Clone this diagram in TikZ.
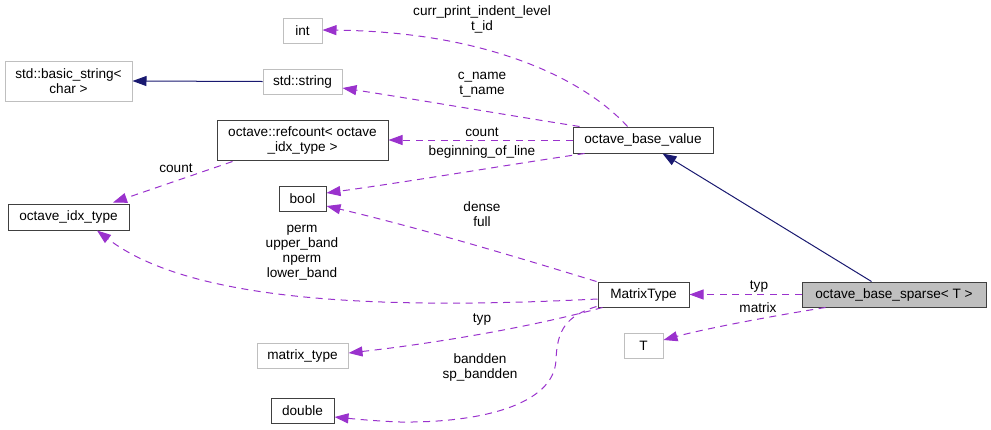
\documentclass[tikz,border=0pt]{standalone}
\usepackage{fontspec}
\setmainfont{Liberation Sans}
\usetikzlibrary{arrows.meta,calc}
\definecolor{edgep}{HTML}{9A32CD}
\definecolor{navy}{HTML}{191970}
\definecolor{boxd}{HTML}{404040}
\definecolor{boxl}{HTML}{BFBFBF}
\tikzset{
  box/.style={draw=boxd, line width=1pt, inner sep=0pt, font=\fontsize{13.6}{15}\selectfont, text=black},
  lbox/.style={box, draw=boxl},
  lbl/.style={inner sep=0pt, align=center, font=\fontsize{13.6}{15}\selectfont},
  usage/.style={draw=edgep, line width=1pt, dash pattern=on 7pt off 5.5pt, -{Triangle[length=14pt,width=10pt,fill=edgep]}},
  inh/.style={draw=navy, line width=1pt, -{Triangle[length=14pt,width=10pt,fill=navy]}},
}
\begin{document}
\begin{tikzpicture}[x=1pt,y=-1pt]
\useasboundingbox (0,0) rectangle (991,429);
% nodes
\node[lbox, minimum width=39, minimum height=25] (int) at (302.5,30.5) {int};
\node[lbox, minimum width=127, minimum height=40, align=center] (bstr) at (68.5,81) {std::basic\_string\textless\\char \textgreater};
\node[lbox, minimum width=79, minimum height=25] (str) at (302.5,81.5) {std::string};
\node[box, minimum width=171, minimum height=40, align=center] (rc) at (302.5,140) {octave::refcount\textless{} octave\\\_idx\_type \textgreater};
\node[box, minimum width=47, minimum height=25] (bool) at (302.5,198.5) {bool};
\node[box, minimum width=121, minimum height=26] (idx) at (68.5,217) {octave\_idx\_type};
\node[lbox, minimum width=91, minimum height=25] (mt) at (302.5,355.5) {matrix\_type};
\node[box, minimum width=63, minimum height=25] (dbl) at (302.5,410.5) {double};
\node[box, minimum width=140, minimum height=26] (bv) at (643,140) {octave\_base\_value};
\node[box, minimum width=91, minimum height=25] (MT) at (643.5,294.5) {MatrixType};
\node[lbox, minimum width=39, minimum height=25] (T) at (643.5,345.5) {T};
\node[box, fill=boxl, minimum width=184, minimum height=25] (sp) at (894,294.5) {octave\_base\_sparse\textless{} T \textgreater};
% inheritance
\draw[inh] (str.west) -- (bstr.east);
\draw[inh] ($(sp.north west)+(70,0)$) -- ($(bv.south west)+(90,0)$);
% usage
\draw[usage] ($(bv.north west)+(55,0)$) .. controls (585,80) and (490,32) .. ($(int.east)+(0,-0.5)$);
\draw[usage] ($(bv.north west)+(7,0)$) .. controls (500,114) and (420,100) .. ($(str.east)+(0,6.5)$);
\draw[usage] (bv.west) -- (rc.east);
\draw[usage] ($(bv.south west)+(12,0)$) .. controls (500,166) and (420,180) .. ($(bool.east)+(0,-5.5)$);
\draw[usage] ($(rc.south west)+(16,1)$) -- ($(idx.north)+(44.5,-1)$);
\draw[usage] ($(MT.north west)+(-1,0)$) .. controls (520,258) and (420,228) .. ($(bool.east)+(0,7.5)$);
\draw[usage] ($(MT.west)+(0,4.5)$) .. controls (380,310) and (190,302) .. ($(idx.south)+(28.5,0)$);
\draw[usage] ($(MT.south west)+(5,0)$) .. controls (520,330) and (420,345) .. ($(mt.east)+(0,-2.5)$);
\draw[usage] ($(MT.south west)+(-1,-1)$) .. controls (566,316) and (557,330) .. (556,360)
  .. controls (554,405) and (480,423) .. (400,422) .. controls (375,421) and (355,419) .. ($(dbl.east)+(0,6.5)$);
\draw[usage] (sp.west) -- (MT.east);
\draw[usage] ($(sp.south west)+(24,0)$) .. controls (760,318) and (700,330) .. ($(T.east)+(0,-5.5)$);
% labels
\node[lbl] (l1) at (482,19.5) {curr\_print\_indent\_level\\t\_id};
\node[lbl] (l2) at (482,84.5) {c\_name\\t\_name};
\node[lbl] (l3) at (482,132) {count};
\node[lbl] (l4) at (482,152) {beginning\_of\_line};
\node[lbl] (l5) at (482,214.5) {dense\\full};
\node[lbl] (l6) at (176,168) {count};
\node[lbl] (l7) at (302,253) {perm\\upper\_band\\nperm\\lower\_band};
\node[lbl] (l8) at (482,320) {typ};
\node[lbl] (l9) at (480,367.5) {bandden\\sp\_bandden};
\node[lbl] (l10) at (759,287) {typ};
\node[lbl] (l11) at (758,308) {matrix};
\end{tikzpicture}
\end{document}
